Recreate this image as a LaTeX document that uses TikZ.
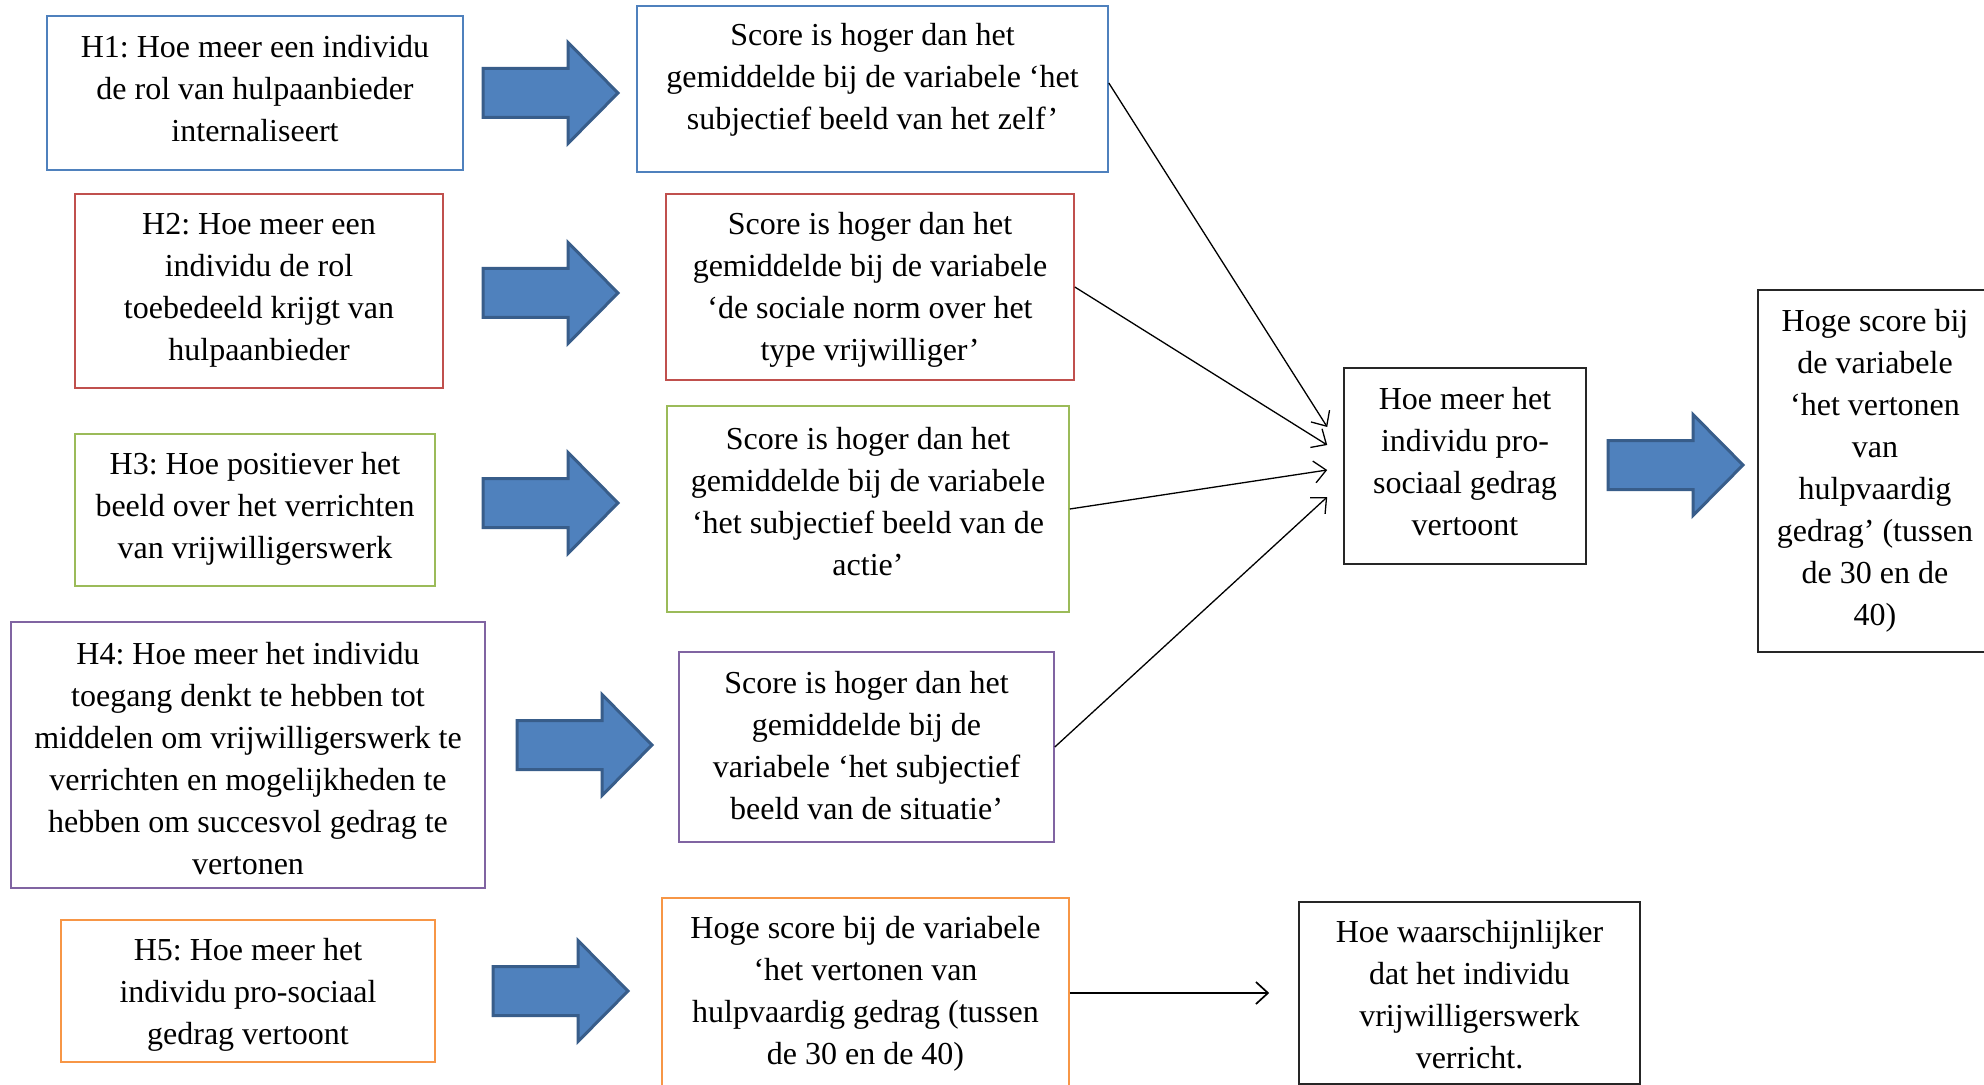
\documentclass[tikz,border=0pt]{standalone}
\usepackage{fontspec}
\setmainfont{Liberation Serif}
\frenchspacing
\usetikzlibrary{arrows.meta,calc}
\definecolor{oblue}{HTML}{4F81BD}
\definecolor{ored}{HTML}{C0504D}
\definecolor{ogreen}{HTML}{9BBB59}
\definecolor{opurple}{HTML}{8064A2}
\definecolor{oorange}{HTML}{F79646}
\definecolor{obox}{HTML}{262626}
\definecolor{arrfill}{HTML}{4F81BD}
\definecolor{arrline}{HTML}{385D8A}
\tikzset{
  box/.style={draw=#1, line width=0.8pt, rectangle, inner sep=0pt},
  txt/.style={align=center, inner sep=0pt, font=\fontsize{16}{21}\selectfont\frenchspacing},
  conn/.style={line width=0.65pt, -{Straight Barb[length=6pt,width=11pt]}},
  blockarr/.style={fill=arrfill, draw=arrline, line width=1.5pt, line join=miter},
  blockarrow/.pic={\draw[blockarr] (0,-24.5) -- (85,-24.5) -- (85,-50.5) -- (135,0) -- (85,50.5) -- (85,24.5) -- (0,24.5) -- cycle;}
}
\begin{document}
\begin{tikzpicture}[x=0.5pt,y=-0.5pt]
\useasboundingbox (0,0) rectangle (1984,1085);
\clip (0,0) rectangle (1984,1085);
\fill[white] (0,0) rectangle (1984,1085);

% left hypothesis boxes
\node[box=oblue, minimum width=208pt, minimum height=77pt] (h1) at (255,93) {};
\node[txt] (h1t) at (255,89) {H1: Hoe meer een individu\\de rol van hulpaanbieder\\internaliseert};
\node[box=ored, minimum width=184pt, minimum height=97pt] (h2) at (259,291) {};
\node[txt] (h2t) at (259,290) {H2: Hoe meer een\\individu de rol\\toebedeeld krijgt van\\hulpaanbieder};
\node[box=ogreen, minimum width=180pt, minimum height=76pt] (h3) at (255,510) {};
\node[txt] (h3t) at (255,509) {H3: Hoe positiever het\\beeld over het verrichten\\van vrijwilligerswerk};
\node[box=opurple, minimum width=237pt, minimum height=133pt] (h4) at (248,755) {};
\node[txt] (h4t) at (248,759) {H4: Hoe meer het individu\\toegang denkt te hebben tot\\middelen om vrijwilligerswerk te\\verrichten en mogelijkheden te\\hebben om succesvol gedrag te\\vertonen};
\node[box=oorange, minimum width=187pt, minimum height=71pt] (h5) at (248,991) {};
\node[txt] (h5t) at (248,995) {H5: Hoe meer het\\individu pro-sociaal\\gedrag vertoont};

% score boxes
\node[box=oblue, minimum width=235.5pt, minimum height=83pt] (s1) at (872.5,89) {};
\node[txt] (s1t) at (872.5,80) {Score is hoger dan het\\gemiddelde bij de variabele ‘het\\subjectief beeld van het zelf’};
\node[box=ored, minimum width=204pt, minimum height=93pt] (s2) at (870,287) {};
\node[txt] (s2t) at (870,290) {Score is hoger dan het\\gemiddelde bij de variabele\\‘de sociale norm over het\\type vrijwilliger’};
\node[box=ogreen, minimum width=201pt, minimum height=103pt] (s3) at (868,509) {};
\node[txt] (s3t) at (868,502) {Score is hoger dan het\\gemiddelde bij de variabele\\‘het subjectief beeld van de\\actie’};
\node[box=opurple, minimum width=187.5pt, minimum height=95pt] (s4) at (866.5,747) {};
\node[txt] (s4t) at (866.5,746) {Score is hoger dan het\\gemiddelde bij de\\variabele ‘het subjectief\\beeld van de situatie’};
\node[box=oorange, minimum width=203.5pt, minimum height=100pt] (s5) at (865.5,998) {};
\node[txt] (s5t) at (865.5,994) {Hoge score bij de variabele\\‘het vertonen van\\hulpvaardig gedrag (tussen\\de 30 en de 40)};

% right side
\node[box=obox, minimum width=121pt, minimum height=98pt] (c) at (1465,466) {};
\node[txt] (ct) at (1465,462) {Hoe meer het\\individu pro-\\sociaal gedrag\\vertoont};
\node[box=obox, minimum width=120pt, minimum height=181pt] (r) at (1878,471) {};
\node[txt] (rt) at (1875,471) {Hoge score bij\\de variabele\\‘het vertonen\\van\\hulpvaardig\\gedrag’ (tussen\\de 30 en de\\40)};
\node[box=obox, minimum width=170.5pt, minimum height=91pt] (f) at (1469.5,993) {};
\node[txt] (ft) at (1469.5,995) {Hoe waarschijnlijker\\dat het individu\\vrijwilligerswerk\\verricht.};

% block arrows
\pic at (483,93) {blockarrow};
\pic at (483,293) {blockarrow};
\pic at (483,503) {blockarrow};
\pic at (517,745) {blockarrow};
\pic at (493,991) {blockarrow};
\pic at (1608,465) {blockarrow};

% thin connectors
\coordinate (e1) at ($(c.west)+(-16,-39)$);
\coordinate (e2) at ($(c.west)+(-16,-21)$);
\coordinate (e3) at ($(c.west)+(-16,4)$);
\coordinate (e4) at ($(c.west)+(-16,31)$);
\coordinate (e5) at ($(f.west)+(-29,0)$);
\draw[conn] ($(s1.east)+(0,-6)$) -- (e1);
\draw[conn] (s2.east) -- (e2);
\draw[conn] (s3.east) -- (e3);
\draw[conn] (s4.east) -- (e4);
\draw[conn, line width=0.85pt] (s5.east |- e5) -- (e5);
\end{tikzpicture}
\end{document}
